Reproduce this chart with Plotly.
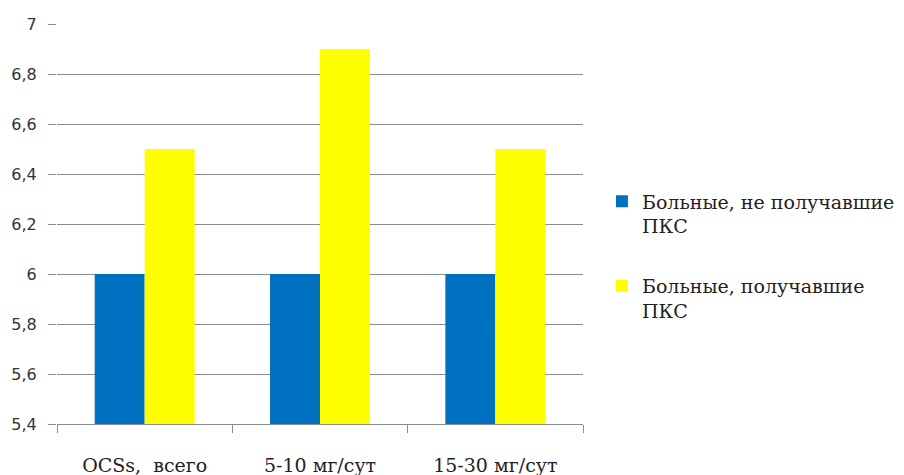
import plotly.graph_objects as go

categories = ["OCSs,  всего", "5-10 мг/сут", "15-30 мг/сут"]
not_received = [6.0, 6.0, 6.0]
received = [6.5, 6.9, 6.5]
series_names = ["Больные, не получавшие<br>ПКС", "Больные, получавшие<br>ПКС"]

serif = "DejaVu Serif"

fig = go.Figure()
fig.add_trace(go.Bar(name=series_names[0], x=categories, y=not_received,
                     marker_color="#0070C0", marker_line_width=0, legendgroup="a"))
fig.add_trace(go.Bar(name=series_names[1], x=categories, y=received,
                     marker_color="#FFFF00", marker_line_width=0, legendgroup="b"))

fig.update_layout(
    width=904, height=475,
    margin=dict(l=49, r=319, t=16, b=59),
    plot_bgcolor="white", paper_bgcolor="white",
    barmode="group", bargap=0.43, bargroupgap=0,
    separators=", ",
    font=dict(family="DejaVu Sans", size=15, color="#333"),
    legend=dict(
        x=1.036, y=0.42, xanchor="left", yanchor="middle",
        font=dict(family=serif, size=19, color="#222"),
        tracegroupgap=32, itemwidth=30, valign="top",
    ),
    showlegend=True,
)
fig.update_yaxes(
    range=[5.4, 7.0], dtick=0.2, tick0=5.4,
    showgrid=True, gridcolor="#8c8c8c", gridwidth=1,
    zeroline=False, showline=False, automargin=False,
    ticks="outside", ticklen=8, tickcolor="#8c8c8c",
    ticklabelstandoff=8,
    tickfont=dict(family="DejaVu Sans", size=16, color="#333"),
)
fig.update_xaxes(
    showline=True, linecolor="#8c8c8c", linewidth=1, automargin=False,
    ticks="outside", tickson="boundaries", ticklen=8, tickcolor="#8c8c8c",
    ticklabelstandoff=24,
    tickfont=dict(family=serif, size=19, color="#222"),
)

fig.write_html("out.html")
